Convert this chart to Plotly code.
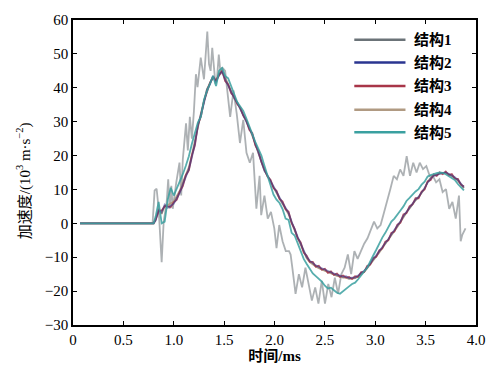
import plotly.graph_objects as go

# ---- data: acceleration (10^3 m/s^2) against time (ms) for five structures ----
NAMES = ["结构1", "结构2", "结构3", "结构4", "结构5"]
COLORS = ["#6b7378", "#2a3590", "#a83548", "#b09a82", "#3aa0a0"]

# common sampling grid used by structures 2-5
T_GRID = [0.07, 0.80,
          0.82, 0.85, 0.88, 0.91, 0.94, 0.97, 1.00, 1.03, 1.06, 1.09,
          1.12, 1.15, 1.18, 1.21, 1.24, 1.27, 1.30, 1.33, 1.36, 1.39,
          1.42, 1.45, 1.48, 1.51, 1.54, 1.57, 1.60, 1.63, 1.66, 1.69,
          1.72, 1.75, 1.78, 1.81, 1.84, 1.87, 1.90, 1.93, 1.96, 1.99,
          2.02, 2.05, 2.08, 2.11, 2.14, 2.17, 2.20, 2.23, 2.26, 2.29,
          2.32, 2.35, 2.38, 2.41, 2.44, 2.47, 2.50, 2.53, 2.56, 2.59,
          2.62, 2.65, 2.68, 2.71, 2.74, 2.77, 2.80, 2.83, 2.86, 2.89,
          2.92, 2.95, 2.98, 3.01, 3.04, 3.07, 3.10, 3.13, 3.16, 3.19,
          3.22, 3.25, 3.28, 3.31, 3.34, 3.37, 3.40, 3.43, 3.46, 3.49,
          3.52, 3.55, 3.58, 3.61, 3.64, 3.67, 3.70, 3.73, 3.76, 3.79,
          3.82, 3.85, 3.88]

A2 = [0.0, 0.0,
      0.8, 4.0, 3.2, 5.5, 4.6, 5.2, 5.8, 7.4, 9.0, 11.5,
      13.8, 16.0, 19.5, 23.5, 28.8, 32.0, 35.5, 39.5, 41.0, 43.5,
      41.6, 44.0, 44.8, 42.5, 40.6, 38.8, 37.0, 35.6, 33.8, 32.2,
      30.0, 28.0, 26.2, 23.5, 21.0, 18.6, 15.5, 14.2, 12.5, 10.8,
      9.2, 7.6, 6.0, 4.6, 3.0, 0.5, -2.0, -4.0, -6.0, -8.2,
      -10.0, -11.0, -11.8, -12.4, -12.9, -13.3, -13.8, -14.2, -14.6, -14.8,
      -15.2, -15.4, -15.8, -15.6, -16.2, -16.0, -16.0, -15.4, -14.8, -14.0,
      -13.0, -11.8, -10.6, -9.5, -8.4, -7.0, -5.8, -4.6, -3.2, -2.0,
      -0.8, 0.6, 2.2, 3.4, 4.6, 6.0, 7.0, 7.8, 9.0, 10.4,
      12.0, 13.2, 14.0, 14.4, 14.6, 14.9, 15.0, 14.6, 14.2, 13.6,
      12.8, 11.8, 10.6]

A3 = [0.0, 0.0,
      1.0, 3.6, 3.8, 5.0, 5.0, 4.8, 6.2, 7.0, 9.4, 11.0,
      14.2, 15.6, 20.0, 23.0, 29.2, 31.6, 36.0, 39.0, 41.5, 43.0,
      42.2, 43.6, 45.0, 42.0, 41.0, 38.4, 37.4, 35.2, 34.2, 31.8,
      30.4, 27.6, 26.6, 23.0, 21.4, 18.2, 16.0, 13.8, 12.9, 10.4,
      9.6, 7.2, 6.4, 4.2, 3.4, 0.1, -1.6, -4.4, -5.6, -8.6,
      -9.6, -11.4, -11.4, -12.8, -12.5, -13.7, -13.4, -14.6, -14.2, -15.2,
      -14.8, -15.8, -15.4, -16.0, -15.8, -16.4, -15.6, -15.8, -14.4, -14.4,
      -12.6, -12.2, -10.2, -9.9, -8.0, -7.4, -5.4, -5.0, -2.8, -2.4,
      -0.4, 0.2, 2.6, 3.0, 5.0, 5.6, 7.4, 7.4, 9.4, 10.0,
      12.4, 12.8, 14.4, 14.0, 15.0, 14.5, 15.3, 14.2, 14.5, 13.2,
      13.1, 11.4, 10.9]

A4 = [0.0, 0.0,
      1.2, 4.3, 2.8, 5.2, 5.4, 5.8, 6.4, 8.0, 9.6, 12.0,
      14.4, 16.5, 20.2, 24.2, 29.2, 32.5, 36.0, 39.6, 41.4, 43.3,
      42.0, 44.3, 45.0, 42.8, 41.0, 39.0, 37.0, 35.7, 34.0, 32.3,
      30.2, 28.2, 26.0, 23.4, 20.8, 18.3, 15.6, 14.0, 12.2, 10.5,
      9.0, 7.3, 5.7, 4.4, 2.7, 0.2, -2.3, -4.3, -6.3, -8.5,
      -10.3, -11.4, -12.1, -12.7, -13.2, -13.6, -14.0, -14.5, -14.9, -15.1,
      -15.5, -15.7, -16.0, -16.0, -16.4, -16.3, -16.2, -15.7, -15.0, -14.3,
      -13.2, -12.1, -10.9, -9.8, -8.6, -7.3, -6.1, -4.8, -3.5, -2.2,
      -1.0, 0.4, 1.9, 3.2, 4.4, 5.8, 6.8, 7.7, 8.9, 10.3,
      12.2, 13.4, 14.1, 14.5, 14.7, 14.9, 14.9, 14.5, 14.0, 13.4,
      12.6, 11.6, 10.4]

A5 = [0.0, 0.0,
      2.0, 6.3, 0.0, 0.5, 7.0, 10.5, 8.2, 10.2, 12.5, 14.5,
      17.0, 19.8, 23.5, 27.0, 29.8, 31.5, 36.5, 39.0, 41.5, 43.5,
      40.5, 45.0, 45.8, 43.5, 42.8, 40.5, 38.0, 35.8, 34.5, 33.2,
      31.0, 28.5, 26.5, 24.0, 22.0, 20.0, 17.0, 14.0, 11.5, 8.5,
      7.0, 6.0, 4.2, 1.4, 1.0, -2.8, -3.6, -6.0, -7.8, -10.5,
      -12.0, -13.5, -14.8, -15.6, -16.4, -17.2, -18.4, -19.2, -19.0, -19.8,
      -20.5, -20.8, -20.0, -19.2, -18.6, -17.9, -17.5, -16.5, -15.5, -14.2,
      -13.1, -11.5, -9.5, -7.8, -5.8, -4.2, -2.8, -1.0, 0.5, 1.4,
      2.8, 3.8, 5.0, 6.6, 7.5, 8.5, 9.4, 10.1, 11.4, 12.3,
      13.8, 14.2, 14.6, 14.8, 15.0, 14.9, 14.5, 14.0, 13.4, 12.8,
      11.6, 10.6, 9.7]

# structure 1 is noisy and sampled on its own times
T1 = [0.07, 0.79, 0.81, 0.83, 0.85, 0.88, 0.90, 0.93, 0.945, 0.96,
      0.976, 0.99, 1.025, 1.057, 1.074, 1.09, 1.122, 1.14, 1.16, 1.18,
      1.20, 1.22, 1.236, 1.268, 1.30, 1.333, 1.35, 1.366, 1.382, 1.414,
      1.43, 1.447, 1.465, 1.48, 1.51, 1.53, 1.56, 1.593, 1.625, 1.657,
      1.69, 1.722, 1.755, 1.787, 1.82, 1.852, 1.868, 1.90, 1.933, 1.965,
      1.998, 2.02, 2.047, 2.08, 2.112, 2.144, 2.16, 2.177, 2.209, 2.242,
      2.274, 2.307, 2.34, 2.371, 2.404, 2.436, 2.469, 2.501, 2.534, 2.566,
      2.599, 2.631, 2.663, 2.696, 2.728, 2.761, 2.793, 2.825, 2.858, 2.89,
      2.923, 2.955, 2.988, 3.02, 3.053, 3.085, 3.118, 3.15, 3.183, 3.215,
      3.247, 3.28, 3.312, 3.345, 3.377, 3.41, 3.442, 3.474, 3.507, 3.54,
      3.572, 3.604, 3.637, 3.669, 3.702, 3.734, 3.766, 3.799, 3.831, 3.848,
      3.864, 3.896]
A1 = [0.0, 0.0, 9.7, 10.2, 4.3, -11.5, 0.5, 6.3, 13.0, 4.3,
      11.1, 4.3, 12.1, 17.9, 8.2, 18.9, 29.5, 21.5, 31.4, 25.0,
      33.0, 44.0, 40.2, 48.9, 42.5, 56.6, 47.0, 45.0, 51.8, 41.1,
      43.0, 49.8, 44.0, 46.0, 45.0, 40.0, 31.4, 39.2, 32.4, 23.7,
      30.5, 20.8, 17.9, 20.8, 4.3, 14.0, 2.4, 8.2, 1.4, 3.4,
      -1.5, -7.3, -0.5, -5.3, -8.2, -8.2, -9.2, -13.1, -20.8, -15.0,
      -18.9, -13.1, -18.0, -22.8, -18.9, -23.7, -17.0, -23.7, -17.9, -21.8,
      -16.0, -20.8, -15.0, -13.1, -9.2, -15.0, -8.2, -10.5, -8.2, -6.0,
      -4.4, -2.0, 0.5, -1.5, -0.5, 3.0, 6.3, 10.1, 14.0, 13.0,
      15.9, 14.0, 19.8, 14.0, 17.9, 15.0, 17.9, 16.0, 16.9, 14.0,
      14.0, 12.1, 13.0, 9.2, 10.1, 4.3, 6.3, 1.4, 8.2, -5.3,
      -3.4, -1.5]

X_TICKS = [0, 0.5, 1.0, 1.5, 2.0, 2.5, 3.0, 3.5, 4.0]
X_TICK_TEXT = ["0", "0.5", "1.0", "1.5", "2.0", "2.5", "3.0", "3.5", "4.0"]
Y_TICKS = [-30, -20, -10, 0, 10, 20, 30, 40, 50, 60]
Y_TICK_TEXT = ["−30", "−20", "−10", "0", "10", "20", "30", "40", "50", "60"]

SERIF = "Liberation Serif, Noto Sans CJK SC, serif"

fig = go.Figure()

# drawing order: noisy series underneath, smooth ones on top;
# the translucent blue over red gives the violet tone where they coincide
fig.add_trace(go.Scatter(x=T1, y=A1, mode="lines", name=NAMES[0],
                         line=dict(color=COLORS[0], width=1.8), opacity=0.55))
fig.add_trace(go.Scatter(x=T_GRID, y=A4, mode="lines", name=NAMES[3],
                         line=dict(color=COLORS[3], width=1.8)))
fig.add_trace(go.Scatter(x=T_GRID, y=A3, mode="lines", name=NAMES[2],
                         line=dict(color=COLORS[2], width=1.8), opacity=0.85))
fig.add_trace(go.Scatter(x=T_GRID, y=A2, mode="lines", name=NAMES[1],
                         line=dict(color=COLORS[1], width=1.8), opacity=0.5))
fig.add_trace(go.Scatter(x=T_GRID, y=A5, mode="lines", name=NAMES[4],
                         line=dict(color=COLORS[4], width=1.8), opacity=0.85))

# key in the upper-right corner of the plot area
legend_rows = [0.935, 0.861, 0.784, 0.706, 0.632]
shapes = []
annotations = []
for name, color, yy in zip(NAMES, COLORS, legend_rows):
    shapes.append(dict(type="line", xref="paper", yref="paper",
                       x0=0.698, x1=0.825, y0=yy, y1=yy,
                       line=dict(color=color, width=2.5)))
    annotations.append(dict(xref="paper", yref="paper", x=0.842, y=yy,
                            xanchor="left", yanchor="middle", showarrow=False,
                            text="<b>" + name + "</b>",
                            font=dict(family=SERIF, size=15, color="black")))

# vertical axis title, set slightly below the axis midpoint
annotations.append(dict(xref="paper", yref="paper", x=-0.122, y=0.474,
                        xanchor="center", yanchor="middle", showarrow=False,
                        textangle=-90,
                        text="加速度/(10<sup>3</sup> m·s<sup>−2</sup>)",
                        font=dict(family=SERIF, size=15, color="black")))

axis_common = dict(ticks="inside", ticklen=4, tickwidth=1, tickcolor="black",
                   showline=True, linecolor="black", linewidth=1.5,
                   mirror="ticks", showgrid=False, zeroline=False,
                   tickfont=dict(family=SERIF, size=15, color="black"))

fig.update_xaxes(range=[0, 4], tickvals=X_TICKS, ticktext=X_TICK_TEXT,
                 title=dict(text="<b>时间/ms</b>", standoff=2,
                            font=dict(family=SERIF, size=15, color="black")),
                 **axis_common)
fig.update_yaxes(range=[-30, 60], tickvals=Y_TICKS, ticktext=Y_TICK_TEXT,
                 **axis_common)

fig.update_layout(width=497, height=372,
                  margin=dict(l=73, r=13, t=15, b=47),
                  plot_bgcolor="white", paper_bgcolor="white",
                  showlegend=False, shapes=shapes, annotations=annotations)

fig.write_html("out.html")
